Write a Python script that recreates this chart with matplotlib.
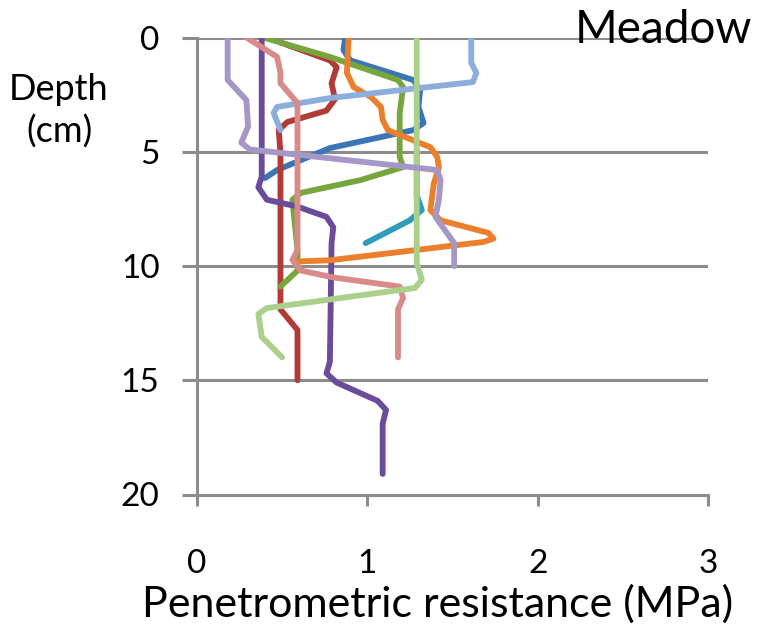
import matplotlib
matplotlib.use('Agg')
import matplotlib.pyplot as plt

# penetrometric resistance (MPa) vs depth (cm), one profile per probe
blue_x = [0.87, 0.86, 0.90, 1.27, 1.31, 1.30, 1.33, 1.27, 0.78, 0.47, 0.40]
blue_d = [0.0, 0.55, 1.0, 1.86, 2.3, 3.04, 3.74, 4.05, 4.84, 5.8, 6.15]

red_x = [0.41, 0.78, 0.82, 0.79, 0.81, 0.76, 0.53, 0.48, 0.49, 0.49, 0.49, 0.59, 0.59, 0.59]
red_d = [0.0, 1.0, 1.3, 2.0, 2.7, 3.2, 3.7, 4.05, 5.05, 10.2, 11.9, 12.8, 13.4, 15.0]

green_x = [0.39, 0.78, 1.18, 1.21, 1.19, 1.19, 1.21, 0.96, 0.61, 0.56, 0.59, 0.59, 0.49]
green_d = [0.0, 0.85, 1.86, 2.17, 3.3, 5.23, 5.67, 6.24, 6.8, 7.1, 9.3, 10.2, 10.9]

purple_x = [0.38, 0.38, 0.36, 0.41, 0.59, 0.76, 0.80, 0.79, 0.78, 0.76, 0.82, 1.06, 1.11, 1.09, 1.09]
purple_d = [0.0, 6.1, 6.55, 7.1, 7.4, 7.85, 8.3, 9.0, 14.2, 14.7, 15.1, 15.9, 16.3, 16.9, 19.1]

teal_x = [1.29, 1.29, 1.32, 1.25, 0.99]
teal_d = [4.9, 6.9, 7.55, 8.0, 9.0]

orange_x = [0.89, 0.88, 0.92, 1.02, 1.08, 1.09, 1.12, 1.27, 1.37, 1.41, 1.42, 1.39, 1.37,
            1.43, 1.71, 1.74, 1.68, 0.78, 0.59]
orange_d = [0.0, 1.55, 2.17, 2.6, 3.04, 3.6, 4.05, 4.5, 4.8, 5.23, 5.67, 6.4, 7.55,
            8.0, 8.55, 8.8, 8.95, 9.75, 9.8]

ltblue_x = [1.61, 1.61, 1.64, 1.62, 0.78, 0.47, 0.45, 0.49]
ltblue_d = [0.0, 1.1, 1.55, 1.95, 2.65, 3.04, 3.3, 4.05]

pink_x = [0.29, 0.47, 0.49, 0.49, 0.59, 0.59, 0.59, 0.56, 0.61, 0.80, 1.19, 1.21, 1.18, 1.18]
pink_d = [0.0, 0.85, 1.55, 2.0, 2.87, 5.23, 9.3, 9.74, 10.2, 10.5, 10.9, 11.4, 11.9, 14.0]

ltgreen_x = [1.29, 1.29, 1.32, 1.28, 0.41, 0.36, 0.38, 0.50]
ltgreen_d = [0.0, 9.87, 10.6, 10.96, 11.84, 12.1, 13.1, 14.0]

lavender_x = [0.18, 0.18, 0.18, 0.29, 0.30, 0.26, 0.31, 1.41, 1.43, 1.42, 1.40, 1.51, 1.51]
lavender_d = [0.0, 1.42, 1.86, 2.74, 3.9, 4.6, 4.9, 5.8, 6.24, 7.1, 7.85, 9.0, 10.0]

profiles = [
    (blue_x, blue_d, '#3B75B6'),
    (red_x, red_d, '#B23B37'),
    (green_x, green_d, '#78A63E'),
    (purple_x, purple_d, '#6A4C9B'),
    (teal_x, teal_d, '#2E9DBB'),
    (orange_x, orange_d, '#EC7F2B'),
    (ltblue_x, ltblue_d, '#8DAEDC'),
    (pink_x, pink_d, '#D98B8A'),
    (ltgreen_x, ltgreen_d, '#ABD08B'),
    (lavender_x, lavender_d, '#A597C6'),
]

plt.rcParams['font.family'] = ['Lato', 'DejaVu Sans']

fig = plt.figure(figsize=(7.6, 6.32), dpi=100)
ax = fig.add_axes([197 / 760, 1 - 494.5 / 632, 511 / 760, 457 / 632])

for xs, ds, col in profiles:
    ax.plot(xs, ds, color=col, lw=4.2, solid_joinstyle='round',
            solid_capstyle='round', zorder=3)

ax.set_xlim(0, 3)
ax.set_ylim(20, 0)
ax.set_xticks([0, 1, 2, 3])
ax.set_yticks([0, 5, 10, 15, 20])

grid_col = '#8C8C8C'
ax.yaxis.grid(True, color=grid_col, lw=2.2)
ax.set_axisbelow(True)
for side in ['top', 'right']:
    ax.spines[side].set_visible(False)
for side in ['left', 'bottom']:
    ax.spines[side].set_color(grid_col)
    ax.spines[side].set_linewidth(2.2)

ax.tick_params(axis='y', direction='out', length=11, width=2.2, color=grid_col,
               pad=16, labelsize=24)
ax.tick_params(axis='x', direction='out', length=8, width=2.2, color=grid_col,
               pad=31, labelsize=24)

# axis titles placed by hand, as in the source layout
fig.text(438 / 760, 1 - 604 / 632, 'Penetrometric resistance (MPa)',
         ha='center', va='center', fontsize=31)
fig.text(59 / 760, 1 - 111 / 632, 'Depth\n(cm)', ha='center', va='center',
         fontsize=26, linespacing=1.3)
fig.text(575 / 760, 1 - 30 / 632, 'Meadow', ha='left', va='center', fontsize=33)

fig.savefig('out.png', dpi=100)
